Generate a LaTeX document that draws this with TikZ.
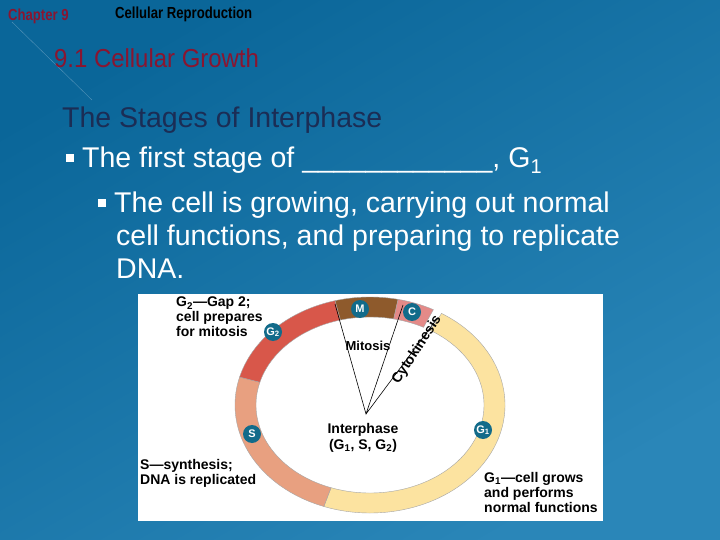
\documentclass[tikz,border=0pt]{standalone}
\usepackage{fontspec}
\setmainfont{Liberation Sans}
\usetikzlibrary{calc}
\definecolor{bgA}{HTML}{0A6699}
\definecolor{bgB}{HTML}{2A86B8}
\definecolor{hdred}{HTML}{8A1530}
\definecolor{navy}{HTML}{1B2D55}
\definecolor{badge}{HTML}{126B8A}
\definecolor{cyY}{HTML}{FCE3A0}
\definecolor{cyS}{HTML}{E8A080}
\definecolor{cyG}{HTML}{D8574A}
\definecolor{cyM}{HTML}{8E5A2C}
\definecolor{cyC}{HTML}{E48A88}
\newcommand{\bsq}{\raisebox{6pt}{\rule{8pt}{8pt}}}
\tikzset{
 badgec/.style={circle,fill=badge,text=white,font=\bfseries\fontsize{11}{11}\selectfont,inner sep=0pt,minimum size=18pt},
 lbl/.style={font=\bfseries\fontsize{14}{15}\selectfont,align=left,anchor=north west,inner sep=0pt,text=black},
 bul/.style={font=\fontsize{28.5}{34}\selectfont,text=white,anchor=north west,inner sep=0pt,align=left}
}
\newcommand{\ringseg}[3]{%
 \fill[#3,draw=black!35,line width=0.4pt] ($(O)+(#1:135 and 108)$) arc[start angle=#1,end angle=#2,x radius=135,y radius=108]
 -- ($(O)+(#2:114 and 88)$) arc[start angle=#2,end angle=#1,x radius=114,y radius=88] -- cycle;}
\begin{document}
\begin{tikzpicture}[x=1pt,y=-1pt]
\useasboundingbox (0,0) rectangle (720,540);
\shade[top color=bgA,bottom color=bgB,shading angle=30] (0,0) rectangle (720,540);
\draw[white!30!bgA,line width=0.4pt] (12,22) -- (92,100);
\node[anchor=west,text=hdred,font=\bfseries\fontsize{16}{16}\selectfont,xscale=0.82,inner sep=0pt] (ch) at (8,16) {Chapter 9};
\node[anchor=west,text=black,font=\bfseries\fontsize{16}{16}\selectfont,xscale=0.82,inner sep=0pt] (cr) at (115,14) {Cellular Reproduction};
\node[anchor=west,text=hdred,font=\fontsize{26}{26}\selectfont,inner sep=0pt,xscale=0.92] (sec) at (54,58) {9.1 Cellular Growth};
\node[anchor=west,text=navy,font=\fontsize{28.5}{28}\selectfont,inner sep=0pt] (st) at (62,120) {The Stages of Interphase};
\node[bul] (b1) at (66,147) {\bsq\ The first stage of \_\_\_\_\_\_\_\_\_\_\_\_, G\textsubscript{1}};
\node[bul] (b2) at (98,192) {\bsq\ The cell is growing, carrying out normal\\[-1pt]\hspace{18pt}cell functions, and preparing to replicate\\[-1pt]\hspace{18pt}DNA.};
% figure
\fill[white] (138,294) rectangle (603,521);
\coordinate (O) at (370,405);
\ringseg{-58}{110}{cyY}
\ringseg{110}{195}{cyS}
\ringseg{195}{255}{cyG}
\ringseg{255}{282}{cyM}
\ringseg{282}{298}{cyC}
\coordinate (apex) at (366,414);
\coordinate (p1) at (335,304);
\coordinate (p2) at (403,305);
\coordinate (p3) at (436,320);
\draw[black,line width=0.6pt] (p1) -- (apex) -- (p2) (apex) -- (p3);
\node[font=\bfseries\fontsize{13}{13}\selectfont,inner sep=1pt] (mit) at (368,346) {Mitosis};
\node[font=\bfseries\fontsize{14}{14}\selectfont,rotate=57,inner sep=0pt] (cyt) at (417,350) {Cytokinesis};
\node[font=\bfseries\fontsize{14}{16}\selectfont,align=center] (int) at (363,438) {Interphase\\(G\textsubscript{1}, S, G\textsubscript{2})};
\node[badgec] (bM) at (360,309) {M};
\node[badgec] (bC) at (412,312) {C};
\node[badgec] (bG2) at (273,332) {G\textsubscript{2}};
\node[badgec] (bS) at (252,434) {S};
\node[badgec] (bG1) at (483,430) {G\textsubscript{1}};
\node[lbl] (lg2) at (176,297) {G\textsubscript{2}—Gap 2;\\cell prepares\\for mitosis};
\node[lbl] (ls) at (140,459) {S—synthesis;\\DNA is replicated};
\node[lbl] (lg1) at (484,472) {G\textsubscript{1}—cell grows\\and performs\\normal functions};
\end{tikzpicture}
\end{document}
